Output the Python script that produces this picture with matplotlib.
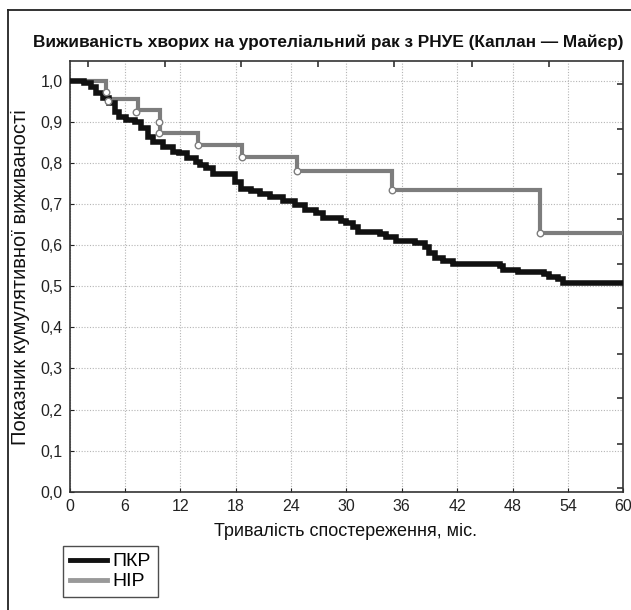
import matplotlib
matplotlib.use('Agg')
import matplotlib.pyplot as plt
from matplotlib import font_manager as fm
from matplotlib.lines import Line2D

names = {f.name for f in fm.fontManager.ttflist}
fam = 'Liberation Sans Narrow' if 'Liberation Sans Narrow' in names else 'Liberation Sans'
plt.rcParams['font.family'] = [fam, 'DejaVu Sans']

# ---- data ----
title = 'Виживаність хворих на уротеліальний рак з РНУЕ (Каплан — Майєр)'
xlabel = 'Тривалість спостереження, міс.'
ylabel = 'Показник кумулятивної виживаності'
series_names = ['ПКР', 'НІР']

x_ticks = [0, 6, 12, 18, 24, 30, 36, 42, 48, 54, 60]
y_ticks = [0.0, 0.1, 0.2, 0.3, 0.4, 0.5, 0.6, 0.7, 0.8, 0.9, 1.0]
y_tick_labels = ['0,0', '0,1', '0,2', '0,3', '0,4', '0,5', '0,6', '0,7', '0,8', '0,9', '1,0']

pkr_t = [0, 1.6, 2.35, 2.9, 3.6, 4.3, 4.9, 5.4, 6.15, 7.05,
         7.8, 8.5, 9.0, 10.1, 11.2, 11.9, 12.7, 13.7, 14.1, 14.8,
         15.5, 17.9, 18.6, 19.7, 20.6, 21.7, 23.1, 24.4, 25.5, 26.7,
         27.5, 29.4, 30.0, 30.7, 31.3, 33.6, 34.3, 35.4, 37.4, 38.5,
         39.0, 39.6, 40.5, 41.6, 46.6, 47.0, 48.6, 51.4, 52.0, 52.9,
         53.5, 60]
pkr_s = [1.0, 0.994, 0.985, 0.969, 0.957, 0.945, 0.925, 0.912, 0.904, 0.900,
         0.884, 0.864, 0.852, 0.839, 0.827, 0.823, 0.811, 0.803, 0.795, 0.787,
         0.772, 0.754, 0.736, 0.732, 0.724, 0.716, 0.708, 0.698, 0.685, 0.679,
         0.665, 0.659, 0.653, 0.643, 0.633, 0.627, 0.620, 0.611, 0.604, 0.595,
         0.580, 0.568, 0.562, 0.554, 0.548, 0.540, 0.535, 0.529, 0.523, 0.517,
         0.507, 0.507]

nir_t = [0, 3.98, 7.4, 9.76, 13.9, 18.7, 24.6, 34.9, 51.0, 60]
nir_s = [1.0, 0.955, 0.929, 0.873, 0.844, 0.814, 0.780, 0.734, 0.629, 0.629]
nir_cens_t = [3.98, 4.15, 7.23, 9.65, 9.65, 13.9, 18.7, 24.6, 34.9, 51.0]
nir_cens_s = [0.973, 0.951, 0.925, 0.899, 0.873, 0.844, 0.814, 0.780, 0.734, 0.629]

# secondary (frame) tick positions on top and right
top_ticks = [1.98, 10.3, 18.6, 26.9, 35.2, 43.6, 51.9]
right_ticks = [0.992, 0.882, 0.773, 0.663, 0.554, 0.446, 0.336, 0.227, 0.117, 0.008]

# ---- figure ----
W, H = 631, 610
fig = plt.figure(figsize=(W / 100, H / 100), dpi=100)
fig.patch.set_facecolor('white')

ax_l, ax_r, ax_t, ax_b = 69.5, 623.3, 60.7, 491.7
ax = fig.add_axes([ax_l / W, 1 - ax_b / H, (ax_r - ax_l) / W, (ax_b - ax_t) / H])
ax.set_xlim(0, 60)
ax.set_ylim(0, (491.7 - 60.7) / 411)

ax.grid(True, linestyle=(0, (1, 1.5)), color='#b5b5b5', linewidth=0.8)
ax.set_axisbelow(True)

grey = '#7d7d7d'
ax.plot(nir_t, nir_s, drawstyle='steps-post', color=grey, lw=3.0,
        solid_joinstyle='miter', zorder=3)
ax.plot(pkr_t, pkr_s, drawstyle='steps-post', color='#111111', lw=4.0,
        solid_joinstyle='miter', zorder=4)
ax.scatter(nir_cens_t, nir_cens_s, s=22, facecolor='white', edgecolor=grey,
           linewidth=1.0, zorder=5)

ax.set_xticks(x_ticks)
ax.set_yticks(y_ticks)
ax.set_yticklabels(y_tick_labels)
ax.tick_params(direction='in', length=3, width=0.8, labelsize=11.5, pad=5,
               colors='#222222')
for s in ax.spines.values():
    s.set_linewidth(1.2)
    s.set_color('#333333')

ax_top = ax.twiny()
ax_top.set_xlim(0, 60)
ax_top.set_xticks(top_ticks)
ax_top.tick_params(direction='in', length=4, width=1.2, labeltop=False, colors='#333333')
ax_right = ax.twinx()
ax_right.set_ylim(ax.get_ylim())
ax_right.set_yticks(right_ticks)
ax_right.tick_params(direction='in', length=4, width=1.2, labelright=False, colors='#333333')
for a in (ax_top, ax_right):
    for s in a.spines.values():
        s.set_visible(False)

fig.text(328 / W, 1 - 42 / H, title, ha='center', va='center',
         fontsize=12.4, fontweight='bold', color='#111111')
fig.text(345 / W, 1 - 531 / H, xlabel, ha='center', va='center',
         fontsize=13, color='#111111')
fig.text(20 / W, 1 - 277 / H, ylabel, ha='center', va='center',
         rotation=90, fontsize=14.5, color='#111111')

# outer frame
fig.add_artist(Line2D([7.7 / W, 7.7 / W], [0, 1 - 10 / H], transform=fig.transFigure,
                      color='#222222', lw=1.3))
fig.add_artist(Line2D([7.7 / W, 1], [1 - 10 / H, 1 - 10 / H], transform=fig.transFigure,
                      color='#222222', lw=1.3))

handles = [Line2D([], [], color='#111111', lw=3.5),
           Line2D([], [], color='#999999', lw=3.5)]
leg = fig.legend(handles, series_names, loc='upper left',
                 bbox_to_anchor=(63 / W, 1 - 546 / H), fontsize=14,
                 frameon=True, fancybox=False, handlelength=1.9,
                 handletextpad=0.3, borderpad=0.35, labelspacing=0.12,
                 borderaxespad=0)
leg.get_frame().set_edgecolor('#222222')
leg.get_frame().set_linewidth(1.0)

fig.savefig('out.png', dpi=100, facecolor='white')
